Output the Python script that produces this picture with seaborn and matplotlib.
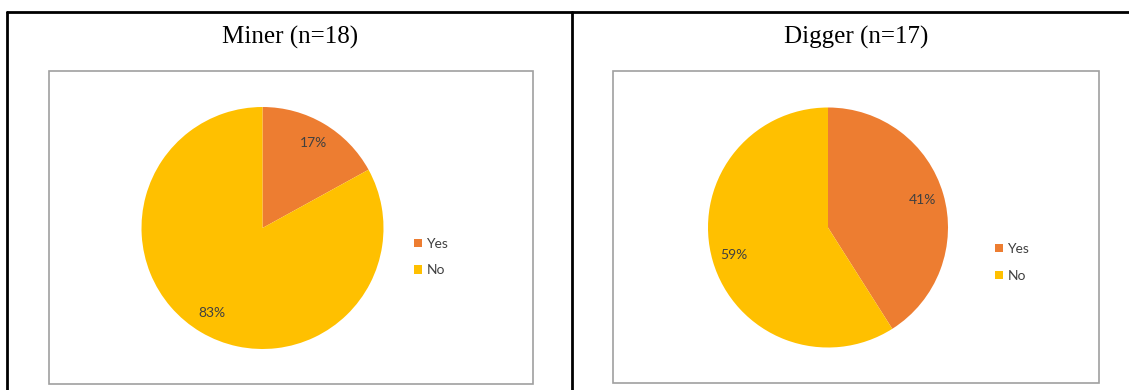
import matplotlib
matplotlib.use("Agg")
import matplotlib.pyplot as plt
from matplotlib.lines import Line2D
from matplotlib.patches import Rectangle
import seaborn as sns

# Survey answers per group
groups = ["Miner (n=18)", "Digger (n=17)"]
answers = ["Yes", "No"]
miner_pct = [17, 83]
digger_pct = [41, 59]

sns.set_theme(style="white")
plt.rcParams["font.family"] = ["Lato", "DejaVu Sans"]

palette = sns.color_palette(["#ED7D31", "#FFC000"])

W, H = 1129, 390
fig = plt.figure(figsize=(W / 100, H / 100), dpi=100)
fig.patch.set_facecolor("white")


def rect(x0, y0, x1, y1):
    """Pixel box (top-left origin) -> figure fraction rect."""
    return [x0 / W, 1 - y1 / H, (x1 - x0) / W, (y1 - y0) / H]


def fx(x):
    return x / W


def fy(y):
    return 1 - y / H


# Table grid lines
lw = 2.0
fig.add_artist(Line2D([fx(7), fx(1129)], [fy(12), fy(12)], color="black", lw=lw))
fig.add_artist(Line2D([fx(7), fx(7)], [fy(12), fy(390)], color="black", lw=lw))
fig.add_artist(Line2D([fx(572), fx(572)], [fy(12), fy(390)], color="black", lw=lw))

panels = [
    dict(title=groups[0], values=miner_pct, tx=290,
         box=(49, 71, 533, 384), center=(262.5, 228), r=121,
         leg=(414, 257)),
    dict(title=groups[1], values=digger_pct, tx=856,
         box=(613, 71, 1099, 383), center=(828, 227.5), r=120,
         leg=(995, 262.5)),
]

for p in panels:
    # cell title
    fig.text(fx(p["tx"]), fy(44), p["title"], ha="center", va="baseline",
             fontsize=18, family=["Liberation Serif", "DejaVu Serif"],
             color="black")

    # chart area frame
    bx0, by0, bx1, by1 = p["box"]
    fig.add_artist(Rectangle((fx(bx0), fy(by1)), fx(bx1) - fx(bx0),
                             fy(by0) - fy(by1), transform=fig.transFigure,
                             fill=False, edgecolor="#A0A0A0", lw=1.2))

    # pie
    cx, cy = p["center"]
    r = p["r"]
    ax = fig.add_axes(rect(cx - r, cy - r, cx + r, cy + r))
    wedges, _, autotexts = ax.pie(
        p["values"], colors=palette, startangle=90, counterclock=False,
        autopct="%.0f%%", pctdistance=0.82, radius=1.0,
        wedgeprops=dict(linewidth=0),
        textprops=dict(color="#404040", fontsize=10),
    )
    ax.set_xlim(-1, 1)
    ax.set_ylim(-1, 1)
    ax.set_aspect("equal")
    ax.axis("off")

    # legend
    lx, ly = p["leg"]
    fig.legend(wedges, answers, loc="center left",
               bbox_to_anchor=(fx(lx), fy(ly)), bbox_transform=fig.transFigure,
               frameon=False, fontsize=10, labelcolor="#404040",
               handlelength=0.55, handleheight=0.55, handletextpad=0.35,
               labelspacing=1.05, borderpad=0, borderaxespad=0)

fig.savefig("out.png", dpi=100, facecolor="white")
